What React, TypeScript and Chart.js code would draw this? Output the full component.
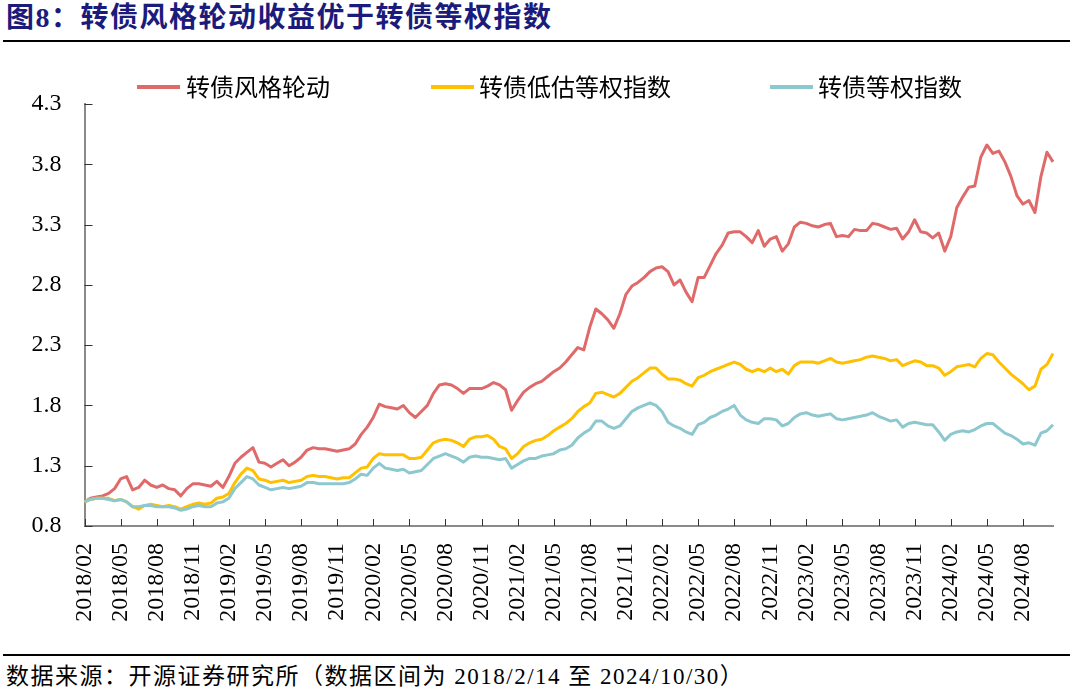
import React, { useEffect, useRef } from "react";
import { Chart, registerables } from "chart.js";

Chart.register(...registerables);

const tickLabels = [
  "2018/02", "2018/05", "2018/08", "2018/11", "2019/02", "2019/05", "2019/08", "2019/11",
  "2020/02", "2020/05", "2020/08", "2020/11", "2021/02", "2021/05", "2021/08", "2021/11",
  "2022/02", "2022/05", "2022/08", "2022/11", "2023/02", "2023/05", "2023/08", "2023/11",
  "2024/02", "2024/05", "2024/08",
];

const yTicks = [0.8, 1.3, 1.8, 2.3, 2.8, 3.3, 3.8, 4.3];

const seriesNames = ["转债风格轮动", "转债低估等权指数", "转债等权指数"];

// half-month samples from 2018/2/14 to 2024/10/30
const rotation = [
  1.00, 1.03, 1.04, 1.05, 1.07, 1.11, 1.19, 1.21, 1.10, 1.12,
  1.18, 1.14, 1.12, 1.14, 1.11, 1.10, 1.05, 1.11, 1.15, 1.15,
  1.14, 1.13, 1.17, 1.12, 1.21, 1.32, 1.37, 1.41, 1.45, 1.33,
  1.32, 1.29, 1.32, 1.35, 1.30, 1.33, 1.37, 1.43, 1.45, 1.44,
  1.44, 1.43, 1.42, 1.43, 1.44, 1.48, 1.56, 1.62, 1.70, 1.81,
  1.79, 1.78, 1.77, 1.80, 1.74, 1.70, 1.75, 1.80, 1.90, 1.97,
  1.98, 1.97, 1.94, 1.90, 1.94, 1.94, 1.94, 1.96, 1.99, 1.97,
  1.93, 1.76, 1.84, 1.91, 1.95, 1.98, 2.00, 2.04, 2.08, 2.11,
  2.16, 2.22, 2.28, 2.26, 2.45, 2.60, 2.56, 2.51, 2.44, 2.56,
  2.72, 2.79, 2.82, 2.86, 2.91, 2.94, 2.95, 2.91, 2.80, 2.84,
  2.74, 2.66, 2.86, 2.86, 2.96, 3.06, 3.13, 3.23, 3.24, 3.24,
  3.20, 3.15, 3.25, 3.12, 3.18, 3.20, 3.08, 3.14, 3.28, 3.32,
  3.31, 3.29, 3.28, 3.30, 3.31, 3.20, 3.21, 3.20, 3.26, 3.25,
  3.25, 3.31, 3.30, 3.28, 3.26, 3.27, 3.18, 3.24, 3.34, 3.24,
  3.23, 3.19, 3.23, 3.08, 3.20, 3.44, 3.53, 3.61, 3.62, 3.86,
  3.96, 3.89, 3.91, 3.82, 3.70, 3.54, 3.47, 3.50, 3.40, 3.70,
  3.90, 3.82,
];

const lowValue = [
  1.00, 1.02, 1.03, 1.03, 1.03, 1.01, 1.02, 1.00, 0.96, 0.94,
  0.97, 0.98, 0.97, 0.96, 0.97, 0.96, 0.94, 0.96, 0.98, 0.99,
  0.98, 0.99, 1.03, 1.04, 1.07, 1.16, 1.23, 1.28, 1.26, 1.19,
  1.18, 1.16, 1.17, 1.18, 1.16, 1.17, 1.18, 1.21, 1.22, 1.21,
  1.21, 1.20, 1.19, 1.20, 1.20, 1.24, 1.28, 1.29, 1.36, 1.40,
  1.39, 1.39, 1.39, 1.39, 1.36, 1.36, 1.37, 1.43, 1.49, 1.51,
  1.52, 1.51, 1.49, 1.46, 1.52, 1.54, 1.54, 1.55, 1.52, 1.46,
  1.44, 1.36, 1.40, 1.46, 1.49, 1.51, 1.52, 1.55, 1.59, 1.62,
  1.65, 1.69, 1.75, 1.79, 1.82, 1.90, 1.91, 1.89, 1.87, 1.90,
  1.95, 2.00, 2.03, 2.07, 2.11, 2.11, 2.06, 2.02, 2.02, 2.01,
  1.98, 1.96, 2.03, 2.05, 2.08, 2.10, 2.12, 2.14, 2.16, 2.14,
  2.10, 2.08, 2.10, 2.08, 2.11, 2.08, 2.10, 2.06, 2.13, 2.16,
  2.16, 2.16, 2.15, 2.17, 2.19, 2.16, 2.15, 2.16, 2.17, 2.18,
  2.20, 2.21, 2.20, 2.19, 2.17, 2.18, 2.13, 2.15, 2.17, 2.16,
  2.13, 2.13, 2.11, 2.05, 2.08, 2.12, 2.13, 2.14, 2.12, 2.19,
  2.23, 2.22, 2.16, 2.11, 2.06, 2.02, 1.98, 1.93, 1.96, 2.10,
  2.14, 2.23,
];

const equalWeight = [
  1.00, 1.02, 1.03, 1.03, 1.02, 1.01, 1.02, 1.00, 0.96, 0.96,
  0.97, 0.97, 0.96, 0.96, 0.96, 0.95, 0.93, 0.94, 0.96, 0.97,
  0.96, 0.96, 0.99, 1.00, 1.03, 1.11, 1.16, 1.21, 1.19, 1.14,
  1.12, 1.10, 1.11, 1.12, 1.11, 1.12, 1.13, 1.16, 1.16, 1.15,
  1.15, 1.15, 1.15, 1.15, 1.16, 1.19, 1.23, 1.22, 1.28, 1.32,
  1.28, 1.27, 1.26, 1.27, 1.24, 1.25, 1.26, 1.31, 1.36, 1.38,
  1.40, 1.38, 1.36, 1.33, 1.37, 1.38, 1.37, 1.37, 1.36, 1.35,
  1.36, 1.28, 1.31, 1.34, 1.36, 1.36, 1.38, 1.39, 1.40, 1.43,
  1.44, 1.47, 1.53, 1.57, 1.60, 1.67, 1.67, 1.63, 1.61, 1.63,
  1.69, 1.75, 1.78, 1.80, 1.82, 1.80, 1.75, 1.66, 1.63, 1.61,
  1.58, 1.56, 1.64, 1.66, 1.70, 1.72, 1.75, 1.77, 1.80, 1.72,
  1.68, 1.66, 1.65, 1.69, 1.69, 1.68, 1.63, 1.65, 1.70, 1.73,
  1.74, 1.72, 1.71, 1.72, 1.73, 1.69, 1.68, 1.69, 1.70, 1.71,
  1.72, 1.74, 1.71, 1.69, 1.67, 1.68, 1.62, 1.65, 1.66, 1.65,
  1.64, 1.64, 1.58, 1.51, 1.56, 1.58, 1.59, 1.58, 1.60, 1.63,
  1.65, 1.65, 1.61, 1.57, 1.55, 1.52, 1.48, 1.49, 1.47, 1.57,
  1.59, 1.64,
];

const colors = ["#E06A6A", "#FFC000", "#8DC8CF"];
const STEPS_PER_TICK = 6;

const serif = '"Liberation Serif", "Times New Roman", "Noto Sans CJK SC", serif';

const insideTicks = {
  id: "insideTicks",
  beforeDatasetsDraw(chart: any) {
    const { ctx, chartArea, scales } = chart;
    const xs = scales.x;
    const ys = scales.y;
    ctx.save();
    ctx.strokeStyle = "#333333";
    ctx.lineWidth = 1;
    ctx.beginPath();
    for (let i = 0; i < rotation.length; i += STEPS_PER_TICK) {
      const px = Math.round(xs.getPixelForValue(i)) + 0.5;
      ctx.moveTo(px, chartArea.bottom);
      ctx.lineTo(px, chartArea.bottom - 7);
    }
    ys.ticks.forEach((t: any) => {
      const py = Math.round(ys.getPixelForValue(t.value)) + 0.5;
      ctx.moveTo(chartArea.left, py);
      ctx.lineTo(chartArea.left + 8, py);
    });
    ctx.stroke();
    ctx.restore();
  },
};

export default function App() {
  const canvasRef = useRef<HTMLCanvasElement | null>(null);

  useEffect(() => {
    if (!canvasRef.current) return;
    const categories = rotation.map((_, i) => String(i));
    const chart = new Chart(canvasRef.current, {
      type: "line",
      data: {
        labels: categories,
        datasets: [rotation, lowValue, equalWeight].map((d, k) => ({
          label: seriesNames[k],
          data: d,
          borderColor: colors[k],
          backgroundColor: colors[k],
          borderWidth: 3,
          pointRadius: 0,
          tension: 0,
          borderJoinStyle: "round" as const,
        })).reverse(),
      },
      options: {
        animation: false,
        responsive: false,
        maintainAspectRatio: false,
        layout: { padding: { top: 104, right: 22, left: 0, bottom: 0 } },
        plugins: { legend: { display: false }, tooltip: { enabled: false } },
        scales: {
          x: {
            type: "category",
            offset: false,
            grid: { display: false, drawTicks: false },
            border: { display: true, color: "#8a8a8a", width: 2 },
            ticks: {
              autoSkip: false,
              minRotation: 90,
              maxRotation: 90,
              padding: 17,
              color: "#000",
              font: { family: serif, size: 24 },
              callback: (_v: any, idx: number) =>
                idx % STEPS_PER_TICK === 0 ? tickLabels[idx / STEPS_PER_TICK] : null,
            },
            afterFit: (s: any) => {
              s.height = 134;
            },
          },
          y: {
            type: "linear",
            min: 0.8,
            max: 4.3,
            grid: { display: false, drawTicks: false },
            border: { display: true, color: "#8a8a8a", width: 2 },
            ticks: {
              padding: 23,
              color: "#000",
              font: { family: serif, size: 24 },
              callback: (v: any) => Number(v).toFixed(1),
            },
            afterBuildTicks: (s: any) => {
              s.ticks = yTicks.map((v) => ({ value: v }));
            },
            afterFit: (s: any) => {
              s.width = 84.5;
            },
          },
        },
      },
      plugins: [insideTicks],
    });
    return () => chart.destroy();
  }, []);

  const legendItems = [
    { line: 137, text: 186 },
    { line: 431, text: 479 },
    { line: 770, text: 818 },
  ];

  return (
    <div
      style={{
        position: "absolute",
        left: 0,
        top: 0,
        width: 1075,
        height: 696,
        background: "#fff",
        overflow: "hidden",
      }}
    >
      <div
        style={{
          position: "absolute",
          left: 6,
          top: 1,
          height: 34,
          lineHeight: "34px",
          fontSize: 28,
          fontWeight: 700,
          letterSpacing: 1.5,
          color: "#1b1b7c",
          fontFamily: serif,
          whiteSpace: "nowrap",
        }}
      >
        图8：转债风格轮动收益优于转债等权指数
      </div>
      <div style={{ position: "absolute", left: 3, top: 40, width: 1067, height: 1.5, background: "#000" }} />
      <canvas
        ref={canvasRef}
        width={1075}
        height={660}
        style={{ position: "absolute", left: 0, top: 0, width: 1075, height: 660 }}
      />
      {legendItems.map((it, k) => (
        <React.Fragment key={k}>
          <div
            style={{
              position: "absolute",
              left: it.line,
              top: 85,
              width: 43,
              height: 4,
              background: colors[k],
            }}
          />
          <div
            style={{
              position: "absolute",
              left: it.text,
              top: 73,
              height: 30,
              lineHeight: "30px",
              fontSize: 24,
              color: "#000",
              fontFamily: serif,
              whiteSpace: "nowrap",
            }}
          >
            {seriesNames[k]}
          </div>
        </React.Fragment>
      ))}
      <div style={{ position: "absolute", left: 3, top: 654, width: 1067, height: 1.5, background: "#000" }} />
      <div
        style={{
          position: "absolute",
          left: 6,
          top: 662,
          height: 30,
          lineHeight: "30px",
          fontSize: 23,
          letterSpacing: 1.5,
          color: "#000",
          fontFamily: serif,
          whiteSpace: "nowrap",
        }}
      >
        数据来源：开源证券研究所（数据区间为 2018/2/14 至 2024/10/30）
      </div>
    </div>
  );
}
